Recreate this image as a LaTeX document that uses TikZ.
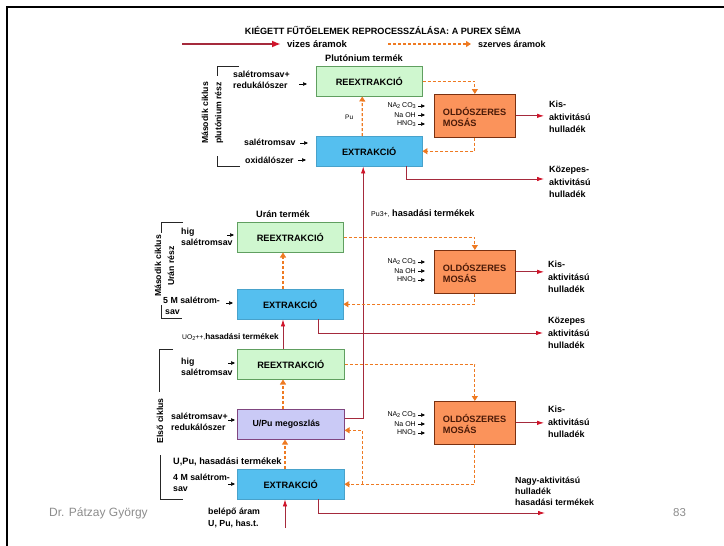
\documentclass[tikz,border=0pt]{standalone}
\usepackage{fontspec}
\setmainfont{Liberation Sans}
\usetikzlibrary{arrows.meta,calc}

\definecolor{aqred}{HTML}{A52A3C}
\definecolor{aqtip}{HTML}{D0142A}
\definecolor{orgflow}{HTML}{EE7A22}
\definecolor{boxgreen}{HTML}{CFF7CF}
\definecolor{boxblue}{HTML}{55BFEF}
\definecolor{boxlav}{HTML}{CACAF6}
\definecolor{boxorange}{HTML}{FB935B}
\definecolor{washedge}{HTML}{7A3010}
\definecolor{washtext}{HTML}{4A1A08}
\definecolor{footgray}{HTML}{8C8C8C}

% small lowered digit for formulas
\newcommand\lowd[1]{\raisebox{-0.3ex}{\fontsize{5.5}{6}\selectfont #1}}

\begin{document}
\begin{tikzpicture}[x=1pt,y=-1pt,
  lbl/.style={font=\fontsize{8.8}{10.5}\selectfont\bfseries, inner sep=0pt, align=left},
  waste/.style={lbl, anchor=west, font=\fontsize{9}{12.5}\selectfont\bfseries},
  chem/.style={font=\fontsize{7}{7}\selectfont, inner sep=0pt, anchor=east},
  unit/.style={anchor=north west, inner sep=0pt, minimum width=106pt, minimum height=30pt,
    font=\fontsize{9.2}{10}\selectfont\bfseries},
  rex/.style={unit, fill=boxgreen, draw=green!25!gray, line width=0.5pt},
  ext/.style={unit, fill=boxblue, draw=boxblue!85!black, line width=0.4pt},
  part/.style={unit, fill=boxlav, draw=violet!45!gray, line width=0.6pt},
  wash/.style={anchor=north west, inner sep=0pt, minimum width=81pt, minimum height=43pt,
    fill=boxorange, draw=washedge, line width=0.7pt, align=left, text width=64pt,
    text depth=8pt, font=\fontsize{9.2}{11}\selectfont\bfseries, text=washtext},
  aq/.style={draw=aqred, line width=0.8pt, -{Latex[length=7pt,width=4.5pt,color=aqtip]}},
  org/.style={draw=orgflow, line width=1.1pt, dash pattern=on 3pt off 2pt,
    -{Triangle[length=5pt,width=6pt]}},
  inarr/.style={draw=black, line width=0.5pt, -{Triangle[length=4pt,width=3.5pt]}},
  brk/.style={draw=black!85, line width=0.8pt},
  rot/.style={rotate=90, font=\fontsize{8.7}{9}\selectfont\bfseries, inner sep=0pt},
]
\useasboundingbox (0,0) rectangle (724,546);

% page frame
\draw[line width=2.6pt] (7,546) -- (7,7) -- (724,7);

% title and legend
\node[lbl, font=\fontsize{9.1}{10}\selectfont\bfseries] (title) at (383,31)
  {KIÉGETT FŰTŐELEMEK REPROCESSZÁLÁSA: A PUREX SÉMA};
\coordinate (lgA) at (182,44);
\node[lbl, anchor=west, font=\fontsize{9.5}{10}\selectfont\bfseries] (lgAt) at (287,44) {vizes áramok};
\draw[draw=aqred, line width=2.4pt, -{Latex[length=9pt,width=7pt,color=aqtip]}]
  (lgA) -- ([xshift=-6]lgAt.west);
\coordinate (lgB) at (388,44);
\node[lbl, anchor=west, font=\fontsize{9}{10}\selectfont\bfseries] (lgBt) at (478,44) {szerves áramok};
\draw[org] (lgB) -- ([xshift=-7]lgBt.west);

% ---------- process units ----------
\node[rex]  (prex) at (316,66)  {REEXTRAKCIÓ};
\node[ext]  (pext) at (316,136) {EXTRAKCIÓ};
\node[wash] (pmos) at (434,94)  {OLDÓSZERES\\MOSÁS};

\node[rex]  (urex) at (237,222) {REEXTRAKCIÓ};
\node[ext]  (uext) at (237,289) {EXTRAKCIÓ};
\node[wash] (umos) at (434,250) {OLDÓSZERES\\MOSÁS};

\node[rex, minimum width=107pt]  (frex) at (237,349) {REEXTRAKCIÓ};
\node[part, minimum width=107pt, font=\fontsize{8.8}{10}\selectfont\bfseries] (upu) at (237,409)
  {\hspace*{-9pt}U/Pu megoszlás};
\node[wash] (fmos) at (434,401) {OLDÓSZERES\\MOSÁS};
\node[ext, minimum width=107pt]  (fext) at (237,469) {EXTRAKCIÓ};

% ---------- product / stream labels ----------
\node[lbl, font=\fontsize{9.2}{10}\selectfont\bfseries] (pprod) at (364,58) {Plutónium termék};
\node[lbl, font=\fontsize{9.2}{10}\selectfont\bfseries] (uprod) at (283,214) {Urán termék};
\node[lbl, anchor=west, font=\fontsize{9.2}{10}\selectfont\bfseries] (puhas) at (371,214)
  {{\fontsize{7}{7}\selectfont\mdseries Pu3+,} hasadási termékek};
\node[lbl, anchor=west, font=\fontsize{8.2}{9}\selectfont\bfseries] (uohas) at (182,337)
  {{\fontsize{6.8}{7}\selectfont\mdseries UO\lowd{2}++,}hasadási termékek};
\node[lbl, anchor=west, font=\fontsize{6.5}{7}\selectfont] (pulbl) at (345,117) {Pu};

% ---------- waste labels ----------
\node[waste] (kis1) at (549,117) {Kis-\\aktivitású\\hulladék};
\node[waste] (koz1) at (549,182) {Közepes-\\aktivitású\\hulladék};
\node[waste] (kis2) at (548,277) {Kis-\\aktivitású\\hulladék};
\node[waste] (koz2) at (548,333) {Közepes\\aktivitású\\hulladék};
\node[waste] (kis3) at (548,422) {Kis-\\aktivitású\\hulladék};
\node[waste, font=\fontsize{8.8}{11}\selectfont\bfseries] (nagy) at (515,491)
  {Nagy-aktivitású\\hulladék\\hasadási termékek};
\coordinate (hlw) at (545,513);
\node[waste, font=\fontsize{8.8}{11.5}\selectfont\bfseries] (feedt) at (208,518)
  {belépő áram\\U, Pu, has.t.};
\coordinate (feed) at (285,528);

% ---------- feed labels on the left ----------
\node[lbl, anchor=west] (l1) at (233,80) {salétromsav+\\redukálószer};
\node[lbl, anchor=west] (l2) at (244,142) {salétromsav};
\node[lbl, anchor=west] (l3) at (245,160) {oxidálószer};
\node[lbl, anchor=west] (l4) at (181,237) {hig\\salétromsav};
\node[lbl, anchor=west] (l5) at (163,306) {5 M salétrom-\\\hspace*{2pt}sav};
\node[lbl, anchor=west] (l6) at (181,367) {hig\\salétromsav};
\node[lbl, anchor=west] (l7) at (171,422) {salétromsav+\\redukálószer};
\node[lbl, anchor=west, font=\fontsize{9.2}{10}\selectfont\bfseries] (l8) at (173,462) {U,Pu, hasadási termékek};
\node[lbl, anchor=west] (l9) at (173,483) {4 M salétrom-\\sav};

% small feed arrows into the units
\draw[inarr] ($(prex.north west)+(-17,18)$) -- ++(8,0);
\draw[inarr] ($(pext.north west)+(-16,7)$)  -- ++(8,0);
\draw[inarr] ($(pext.north west)+(-18,24)$) -- ++(8,0);
\draw[inarr] ($(urex.north west)+(-10,13)$) -- ++(7,0);
\draw[inarr] ($(uext.north west)+(-11,14)$) -- ++(7,0);
\draw[inarr] ($(frex.north west)+(-9,14)$)  -- ++(7,0);
\draw[inarr] ($(upu.north west)+(-9,11)$)  -- ++(7,0);
\draw[inarr] ($(fext.north west)+(-9,15)$)  -- ++(7,0);

% washing reagents
\foreach \b/\o in {pmos/12, umos/12, fmos/14}{
  \node[chem] (\b c1) at ($(\b.north west)+(-18,\o)$)   {NA\lowd{2} CO\lowd{3}};
  \node[chem] (\b c2) at ($(\b.north west)+(-18,\o+9)$) {Na OH};
  \node[chem] (\b c3) at ($(\b.north west)+(-18,\o+18)$){HNO\lowd{3}};
  \draw[inarr] ($(\b c1.east)+(2,0)$) -- ++(7,0);
  \draw[inarr] ($(\b c2.east)+(2,0)$) -- ++(7,0);
  \draw[inarr] ($(\b c3.east)+(2,0)$) -- ++(7,0);
}

% ---------- cycle brackets ----------
\draw[brk] (239,66) -- (217,66) -- (217,76);
\draw[brk] (217,156) -- (217,166) -- (240,166);
\node[rot] (cyc2p) at (205,113) {Második ciklus};
\node[rot] (cyc2pb) at (219,113) {plutónium rész};

\draw[brk] (183,222) -- (161,222) -- (161,233);
\draw[brk] (161,305) -- (161,318) -- (182,318);
\node[rot] (cyc2u) at (158,266) {Második ciklus};
\node[rot] (cyc2ub) at (171,266) {Urán rész};

\draw[brk] (173,349) -- (159,349) -- (159,392);
\draw[brk] (160,455) -- (160,499) -- (183,499);
\node[rot] (cyc1) at (160,421) {Első ciklus};

% ---------- aqueous streams ----------
\draw[aq] (pmos.east) -- ([xshift=-5]pmos.east -| kis1.west);
\draw[aq] ([xshift=-16]pext.south east) |- ([xshift=-5,yshift=3]koz1.west);
\draw[aq] (umos.east) -- ([xshift=-4]umos.east -| kis2.west);
\draw[aq] ([xshift=81]uext.south west) |- ([xshift=-5]koz2.west);
\draw[aq] (fmos.east) -- ([xshift=-4]fmos.east -| kis3.west);
\draw[aq] ([xshift=81]fext.south west) |- (hlw);
\draw[aq] (feed) -- (feed |- fext.south);
\draw[aq] ([xshift=46]frex.north west) -- ([xshift=46]uext.south west);
\draw[aq] ([yshift=6]upu.east) -| ([xshift=-6]pext.south);

% ---------- organic streams ----------
\coordinate (vx) at ([xshift=-7]pext.north);
\draw[org] (prex.east) -| (pmos.north);
\draw[org] (pmos.south) |- (pext.east);
\draw[org] (vx) -- ([xshift=-7]prex.south);
\draw[org] (urex.east) -| (umos.north);
\draw[org] (umos.south) |- (uext.east);
\draw[org] ([xshift=46]uext.north west) -- ([xshift=46]urex.south west);
\draw[org] (frex.east) -| (fmos.north);
\draw[org] (fmos.south) |- (fext.east);
\draw[org] (fext.east -| vx) |- ([yshift=-6]upu.east);
\draw[org] ([xshift=46]upu.north west) -- ([xshift=46]frex.south west);
\draw[org] ([xshift=48]fext.north west) -- ([xshift=48]upu.south west);

% ---------- footer ----------
\node[inner sep=0pt, anchor=west, text=footgray, font=\fontsize{12}{13}\selectfont] (author)
  at (49,513) {Dr. Pátzay György};
\node[inner sep=0pt, anchor=west, text=footgray, font=\fontsize{11.5}{12}\selectfont] (pageno)
  at (673,513) {83};
\end{tikzpicture}
\end{document}
